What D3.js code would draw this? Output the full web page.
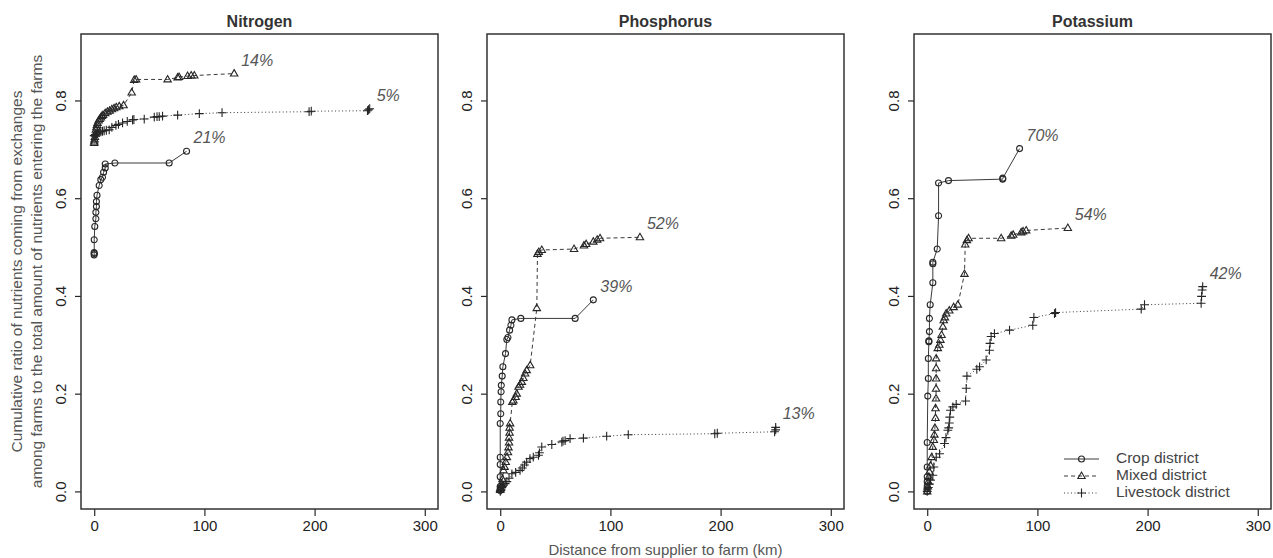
<!DOCTYPE html>
<html>
<head>
<meta charset="utf-8">
<script src="https://cdn.jsdelivr.net/npm/d3@7/dist/d3.min.js"></script>
<style>
  html, body { margin: 0; padding: 0; background: #fff; }
  svg { display: block; font-family: "Liberation Sans", Arial, Helvetica, sans-serif; }
</style>
</head>
<body>
<svg id="chart" width="1273" height="558"></svg>
<script>
// Nutrient names (one panel each) and district series
const nutrients = ["Nitrogen", "Phosphorus", "Potassium"];
const districts = ["Crop district", "Mixed district", "Livestock district"];
const xTicks = [0, 100, 200, 300];
const yTicks = [0, 0.2, 0.4, 0.6, 0.8];
const xLimits = [0, 300];
const yLimits = [0, 0.9];

// Share of exchanges labelled at the end of each curve: [crop, mixed, livestock]
const nitrogenShares = ["21%", "14%", "5%"];
const phosphorusShares = ["39%", "52%", "13%"];
const potassiumShares = ["70%", "54%", "42%"];

// Nitrogen – cumulative ratio against supplier distance (km)
const nitrogenCropKm = [0, 0, 0, 0, 0.5, 1.5, 1.5, 2, 2, 2.5, 4.5, 6, 7.5, 8.5, 10, 10, 18.8, 68, 83.8];
const nitrogenCropRatio = [0.484, 0.487, 0.489, 0.515, 0.542, 0.558, 0.571, 0.583, 0.593, 0.606, 0.626, 0.638, 0.643, 0.653, 0.662, 0.670, 0.672, 0.672, 0.696];
const nitrogenMixedKm = [0, 0, 0.3, 0.6, 1, 1.5, 2, 2.5, 3, 4, 5, 6, 7, 8, 10, 12, 14, 16, 18, 20, 22.7, 26.6, 34, 36.3, 38, 66.6, 75.7, 77, 84.7, 88, 90.8, 127];
const nitrogenMixedRatio = [0.713, 0.716, 0.720, 0.725, 0.732, 0.740, 0.745, 0.750, 0.754, 0.759, 0.762, 0.765, 0.768, 0.770, 0.774, 0.777, 0.779, 0.782, 0.784, 0.786, 0.788, 0.790, 0.816, 0.842, 0.843, 0.843, 0.847, 0.848, 0.850, 0.851, 0.851, 0.855];
const nitrogenLivestockKm = [0, 1, 2, 3, 4.5, 6, 7.5, 9, 11, 13.6, 16, 19.7, 22, 25.7, 30, 34.8, 36, 45.4, 54.5, 57, 59, 62, 75.7, 95.4, 116, 195, 197, 248, 249, 250];
const nitrogenLivestockRatio = [0.728, 0.730, 0.731, 0.732, 0.734, 0.736, 0.737, 0.738, 0.739, 0.740, 0.745, 0.749, 0.751, 0.754, 0.757, 0.760, 0.761, 0.762, 0.766, 0.767, 0.767, 0.768, 0.770, 0.773, 0.775, 0.777, 0.778, 0.779, 0.781, 0.783];

// Phosphorus
const phosphorusCropKm = [0, 0, 0, 0, 0, 0, 0, 0.5, 0.5, 0.8, 1, 1.8, 2.4, 4.8, 6, 7, 8.5, 9.7, 10.6, 18.7, 68, 84.5];
const phosphorusCropRatio = [0.002, 0.005, 0.010, 0.030, 0.055, 0.070, 0.139, 0.159, 0.183, 0.204, 0.217, 0.236, 0.255, 0.282, 0.311, 0.315, 0.330, 0.340, 0.351, 0.354, 0.354, 0.392];
const phosphorusMixedKm = [0, 0.5, 1, 2, 3, 4, 5, 6, 7, 7.5, 8, 8, 8.5, 8.5, 9, 11, 12, 14, 15, 16.6, 18, 19.6, 21, 22.6, 24, 27.2, 33.2, 33.8, 35, 37.7, 67, 76, 78, 84.5, 88, 90.6, 126.8];
const phosphorusMixedRatio = [0.003, 0.008, 0.015, 0.025, 0.043, 0.050, 0.060, 0.070, 0.080, 0.090, 0.100, 0.110, 0.120, 0.130, 0.139, 0.183, 0.186, 0.193, 0.200, 0.214, 0.218, 0.224, 0.232, 0.241, 0.248, 0.258, 0.375, 0.486, 0.490, 0.494, 0.496, 0.503, 0.506, 0.511, 0.515, 0.518, 0.520];
const phosphorusLivestockKm = [0, 0.5, 1, 1.5, 2, 3, 4.5, 6, 8, 10.6, 14, 18, 20, 22, 24, 27, 30, 34.7, 35.6, 37.7, 46.8, 55.9, 57, 58.9, 63.4, 75.5, 96.6, 116.2, 194.7, 197, 249, 250, 250];
const phosphorusLivestockRatio = [0, 0.002, 0.005, 0.008, 0.010, 0.013, 0.016, 0.020, 0.027, 0.036, 0.039, 0.043, 0.048, 0.054, 0.060, 0.067, 0.070, 0.074, 0.079, 0.091, 0.096, 0.101, 0.103, 0.104, 0.108, 0.109, 0.113, 0.116, 0.118, 0.119, 0.122, 0.126, 0.131];

// Potassium
const potassiumCropKm = [0, 0, 0, 0, 0, 0, 0, 0.5, 1, 1, 1.5, 1.5, 2, 2, 2.7, 5.1, 5.1, 5.1, 9.1, 10.3, 10.3, 19.3, 68.6, 68.6, 83.8];
const potassiumCropRatio = [0, 0.005, 0.010, 0.020, 0.030, 0.050, 0.100, 0.195, 0.231, 0.272, 0.306, 0.308, 0.327, 0.354, 0.382, 0.427, 0.466, 0.469, 0.496, 0.564, 0.631, 0.636, 0.639, 0.641, 0.7015];
const potassiumMixedKm = [0, 0.5, 1, 1.5, 2, 3, 4, 5, 6, 6.5, 7, 7.5, 7.5, 8, 8, 8.1, 8.1, 8.1, 9.6, 11, 12, 13, 14.2, 15, 16, 17.2, 20, 24, 27.8, 33.8, 34.5, 36, 37.5, 67.1, 76.2, 78, 85.3, 87, 89.8, 127.6];
const potassiumMixedRatio = [0, 0.010, 0.020, 0.030, 0.040, 0.053, 0.070, 0.091, 0.105, 0.116, 0.130, 0.150, 0.170, 0.190, 0.210, 0.231, 0.252, 0.272, 0.293, 0.300, 0.310, 0.320, 0.337, 0.350, 0.356, 0.364, 0.370, 0.377, 0.382, 0.445, 0.505, 0.514, 0.518, 0.518, 0.523, 0.525, 0.530, 0.532, 0.534, 0.539];
const potassiumLivestockKm = [0, 1, 2, 3, 5.1, 6, 8.2, 11.2, 15.7, 17, 18.7, 19.5, 20, 20.5, 21.1, 23.3, 26.3, 34.8, 35.4, 36, 45, 47.5, 53.5, 56.5, 57, 58, 61, 74.7, 95.8, 96.8, 115.5, 116.5, 194.2, 197.2, 248.6, 249, 249.5, 250];
const potassiumLivestockRatio = [0, 0.008, 0.015, 0.023, 0.033, 0.050, 0.070, 0.077, 0.098, 0.110, 0.125, 0.130, 0.140, 0.152, 0.166, 0.173, 0.178, 0.185, 0.211, 0.236, 0.250, 0.255, 0.269, 0.289, 0.303, 0.317, 0.323, 0.330, 0.340, 0.356, 0.364, 0.366, 0.373, 0.382, 0.385, 0.399, 0.412, 0.419];

// Assemble the series for each panel
const zip = (xs, ys) => xs.map((x, i) => ({ x, y: ys[i] }));
const panelSeries = [
  [zip(nitrogenCropKm, nitrogenCropRatio), zip(nitrogenMixedKm, nitrogenMixedRatio), zip(nitrogenLivestockKm, nitrogenLivestockRatio)],
  [zip(phosphorusCropKm, phosphorusCropRatio), zip(phosphorusMixedKm, phosphorusMixedRatio), zip(phosphorusLivestockKm, phosphorusLivestockRatio)],
  [zip(potassiumCropKm, potassiumCropRatio), zip(potassiumMixedKm, potassiumMixedRatio), zip(potassiumLivestockKm, potassiumLivestockRatio)]
];
const panelShares = [nitrogenShares, phosphorusShares, potassiumShares];

// Layout
const ink = "#262626";
const lineInk = "#3a3a3a";
const panelLeft = [81, 487, 914];
const panelWidth = 357;
const plotTop = 34, plotBottom = 509;
const dashes = [null, "4,3", "1,2.5"];
const markers = ["circle", "triangle", "plus"];

const svg = d3.select("#chart");

// Small R-like plotting symbols (outline circle, outline triangle, plus)
function markerPath(type, cx, cy) {
  if (type === "triangle") {
    const h = 6.4, w = 7.4;
    return `M${cx},${cy - h * 0.62}L${cx + w / 2},${cy + h * 0.38}L${cx - w / 2},${cy + h * 0.38}Z`;
  }
  if (type === "plus") {
    const r = 4.4;
    return `M${cx - r},${cy}H${cx + r}M${cx},${cy - r}V${cy + r}`;
  }
  const r = 3;
  return `M${cx + r},${cy}A${r},${r} 0 1,1 ${cx - r},${cy}A${r},${r} 0 1,1 ${cx + r},${cy}Z`;
}

// R's default 4% axis extension
function extend([a, b]) { const d = (b - a) * 0.04; return [a - d, b + d]; }

const yScale = d3.scaleLinear().domain(extend(yLimits)).range([plotBottom, plotTop]);

nutrients.forEach((name, p) => {
  const left = panelLeft[p], right = left + panelWidth;
  const xScale = d3.scaleLinear().domain(extend(xLimits)).range([left, right]);
  const g = svg.append("g");

  // Title
  g.append("text")
    .attr("x", (left + right) / 2).attr("y", 27)
    .attr("text-anchor", "middle")
    .attr("font-size", 16).attr("font-weight", "bold").attr("fill", "#333")
    .text(name);

  // Bottom axis
  const xAxis = g.append("g").attr("transform", `translate(0,${plotBottom})`)
    .call(d3.axisBottom(xScale).tickValues(xTicks).tickSize(7).tickPadding(4).tickFormat(d3.format("d")));
  xAxis.select(".domain").remove();
  xAxis.selectAll("line").attr("stroke", ink).attr("stroke-width", 1.2);
  xAxis.selectAll("text").attr("font-size", 15).attr("fill", "#222")
    .attr("font-family", "Liberation Sans, Arial, sans-serif");

  // Left axis with labels parallel to the axis
  const yAxis = g.append("g").attr("transform", `translate(${left},0)`)
    .call(d3.axisLeft(yScale).tickValues(yTicks).tickSize(6).tickFormat(d3.format(".1f")));
  yAxis.select(".domain").remove();
  yAxis.selectAll("line").attr("stroke", ink).attr("stroke-width", 1.2);
  yAxis.selectAll("text")
    .attr("font-size", 15).attr("fill", "#222")
    .attr("font-family", "Liberation Sans, Arial, sans-serif")
    .attr("text-anchor", "middle")
    .attr("x", 0).attr("dy", 0)
    .attr("transform", `translate(-19,0) rotate(-90)`)
    .attr("dominant-baseline", "middle");

  // Plot frame
  g.append("rect")
    .attr("x", left).attr("y", plotTop)
    .attr("width", panelWidth).attr("height", plotBottom - plotTop)
    .attr("fill", "none").attr("stroke", "#333").attr("stroke-width", 1.5);

  const line = d3.line().x(d => xScale(d.x)).y(d => yScale(d.y));

  panelSeries[p].forEach((series, s) => {
    g.append("path")
      .attr("d", line(series))
      .attr("fill", "none").attr("stroke", lineInk).attr("stroke-width", 1)
      .attr("stroke-dasharray", dashes[s]);

    g.append("g").selectAll("path")
      .data(series).join("path")
      .attr("d", d => markerPath(markers[s], xScale(d.x), yScale(d.y)))
      .attr("fill", "none").attr("stroke", ink).attr("stroke-width", 1.1);

    // Share label beside the curve's last point
    const last = series[series.length - 1];
    g.append("text")
      .attr("x", xScale(last.x) + 7).attr("y", yScale(last.y) - 8)
      .attr("font-size", 16).attr("font-style", "italic").attr("fill", "#555")
      .text(panelShares[p][s]);
  });
});

// Y-axis title (two lines) on the first panel
const yMid = (plotTop + plotBottom) / 2;
[["Cumulative ratio of nutrients coming from exchanges", 18],
 ["among farms to the total amount of nutrients entering the farms", 38]].forEach(([t, x]) => {
  svg.append("text")
    .attr("transform", `translate(${x},${yMid}) rotate(-90)`)
    .attr("text-anchor", "middle").attr("dominant-baseline", "middle")
    .attr("font-size", 15.5).attr("fill", "#555")
    .text(t);
});

// X-axis title under the middle panel
svg.append("text")
  .attr("x", panelLeft[1] + panelWidth / 2).attr("y", 555)
  .attr("text-anchor", "middle")
  .attr("font-size", 15).attr("fill", "#555")
  .text("Distance from supplier to farm (km)");

// Legend in the last panel
const legend = svg.append("g");
districts.forEach((d, s) => {
  const y = 459 + s * 17;
  legend.append("line")
    .attr("x1", 1064).attr("x2", 1099).attr("y1", y).attr("y2", y)
    .attr("stroke", lineInk).attr("stroke-width", 1).attr("stroke-dasharray", dashes[s]);
  legend.append("path")
    .attr("d", markerPath(markers[s], 1081.5, y))
    .attr("fill", "none").attr("stroke", ink).attr("stroke-width", 1.1);
  legend.append("text")
    .attr("x", 1116).attr("y", y).attr("dominant-baseline", "middle")
    .attr("font-size", 15.5).attr("fill", "#444")
    .text(d);
});
</script>
</body>
</html>
